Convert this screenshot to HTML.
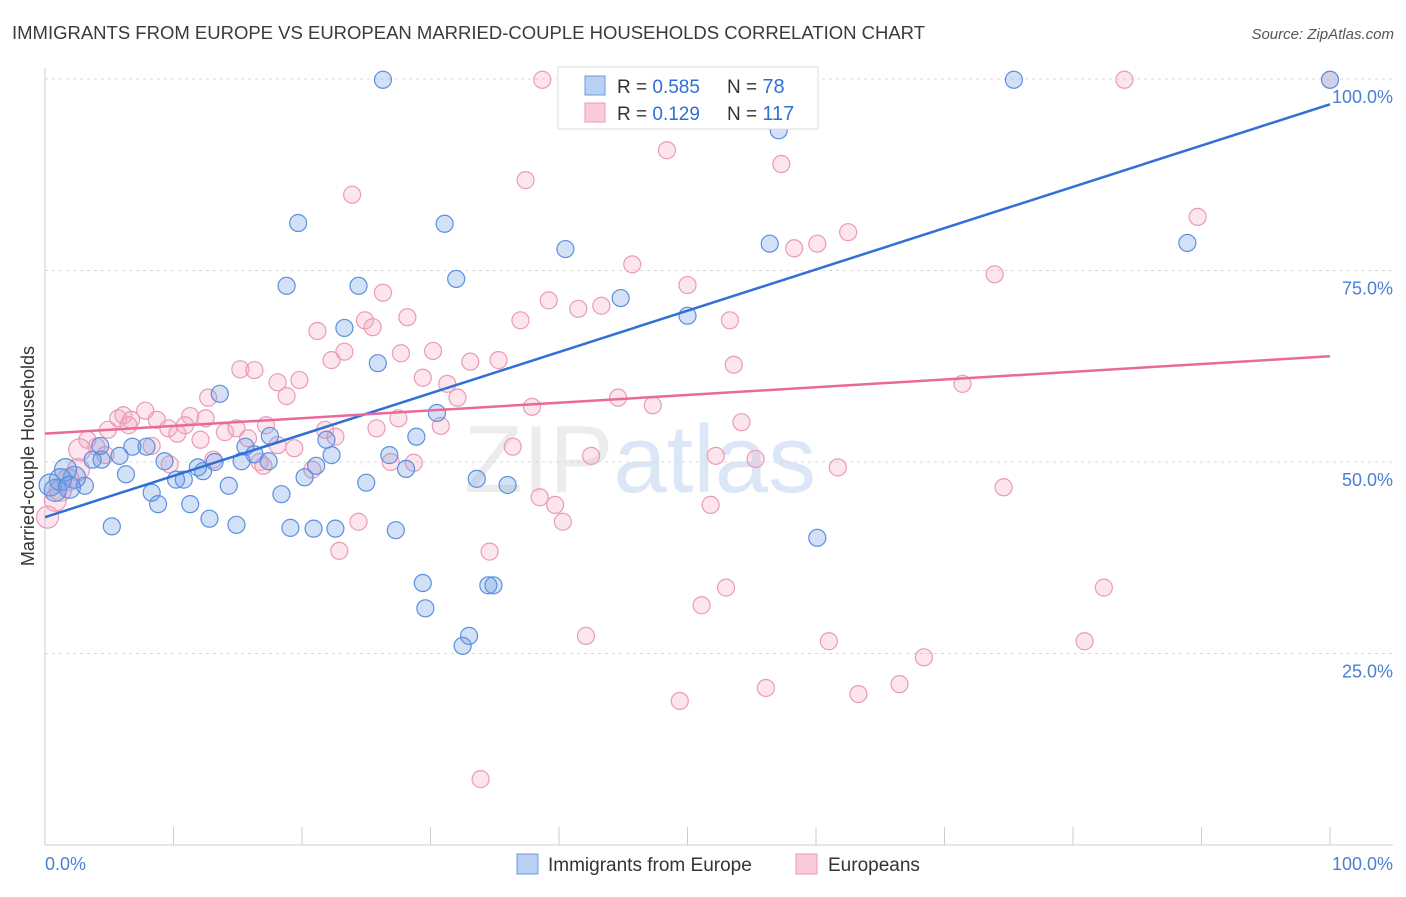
<!DOCTYPE html>
<html><head><meta charset="utf-8"><style>
body{margin:0;background:#fff;font-family:"Liberation Sans",sans-serif;}
svg text{font-family:"Liberation Sans",sans-serif;}
</style></head><body>
<svg id="chart" width="1406" height="892">
<text x="12" y="39" font-size="18" textLength="913" lengthAdjust="spacingAndGlyphs" fill="#3a3a3a">IMMIGRANTS FROM EUROPE VS EUROPEAN MARRIED-COUPLE HOUSEHOLDS CORRELATION CHART</text>
<text x="1394" y="39" font-size="15" fill="#555" text-anchor="end" font-style="italic">Source: ZipAtlas.com</text>
<text x="640" y="492" font-size="96" fill="#ececec" font-family="Liberation Serif" text-anchor="middle">ZIP<tspan fill="#dbe7f7" font-family="Liberation Sans">atlas</tspan></text>
<text transform="translate(34,456) rotate(-90)" font-size="18" fill="#333" text-anchor="middle">Married-couple Households</text>
<g id="grid"></g><g id="axes"></g><g id="pts"></g><g id="lines"></g>
<g>
<rect x="558" y="67" width="260" height="62" fill="#fff" stroke="#ddd"/>
<rect x="585" y="76" width="20" height="19" fill="#b9d0f3" stroke="#6b9be0"/>
<rect x="585" y="103" width="20" height="19" fill="#f9cad9" stroke="#eb9ab7"/>
<text x="617" y="93" font-size="19" fill="#333">R = <tspan fill="#2f6fd6">0.585</tspan><tspan x="727">N = </tspan><tspan fill="#2f6fd6" font-size="20"> 78</tspan></text>
<text x="617" y="120" font-size="19" fill="#333">R = <tspan fill="#2f6fd6"> 0.129</tspan><tspan x="727">N = </tspan><tspan fill="#2f6fd6" font-size="20">117</tspan></text>
</g>
<g>
<rect x="517" y="854" width="21" height="20" fill="#b9d0f3" stroke="#6b9be0"/>
<text x="548" y="871" font-size="19" fill="#333">Immigrants from Europe</text>
<rect x="796" y="854" width="21" height="20" fill="#f9cad9" stroke="#eb9ab7"/>
<text x="828" y="871" font-size="19" fill="#333">Europeans</text>
</g>
</svg>
<script>
const blueX=[26.3,75.4,100,47.2,57.1,19.7,31.1,40.5,18.8,24.4,32.0,44.8,56.4,88.9,50.0,23.3,25.9,13.6,30.5,28.9,21.9,22.3,26.8,28.1,33.6,25.0,18.4,20.2,21.1,5.2,8.8,11.3,12.8,14.9,19.1,20.9,22.6,27.3,29.4,29.6,34.5,34.9,33.0,32.5,60.1,36.0,14.3,12.3,11.9,10.8,10.2,9.3,8.3,7.9,6.8,6.3,5.8,4.4,3.7,4.3,3.1,2.3,1.6,1.2,0.8,0.4,1.9,15.6,16.3,17.4,15.3,13.2,17.5];
const blueY=[99.9,99.9,99.9,99.9,93.3,81.2,81.1,77.8,73.0,73.0,73.9,71.4,78.5,78.6,69.1,67.5,62.9,58.9,56.4,53.3,52.9,50.9,50.9,49.1,47.8,47.3,45.8,48.0,49.5,41.6,44.5,44.5,42.6,41.8,41.4,41.3,41.3,41.1,34.2,30.9,33.9,33.9,27.3,26.0,40.1,47.0,46.9,48.8,49.3,47.7,47.7,50.1,46.0,52.0,52.0,48.4,50.8,50.3,50.3,52.1,46.9,48.0,49.0,47.7,46.3,47.0,46.7,52.0,51.0,50.1,50.1,50.0,53.4];
const pinkX=[38.7,84.0,100,51.1,48.4,57.3,23.9,37.4,89.7,62.5,60.1,58.3,45.7,73.9,50.0,26.3,39.2,43.3,41.5,37.0,53.3,28.2,24.9,21.2,25.5,23.3,22.3,27.7,30.2,33.1,35.3,53.6,15.2,16.3,18.1,19.8,29.4,31.3,18.8,12.7,71.4,44.6,47.3,37.9,32.1,27.5,30.8,25.8,7.8,5.7,6.1,6.7,4.9,6.5,8.7,9.6,10.3,11.3,12.5,10.9,12.1,14.0,14.9,15.8,17.2,18.1,19.4,21.8,22.6,8.3,3.3,4.0,2.7,4.7,2.6,1.8,1.2,0.8,0.2,9.7,13.1,16.7,17.0,20.8,26.9,28.7,54.2,42.5,36.4,52.2,55.3,61.7,38.5,39.7,40.3,51.8,74.6,24.4,22.9,34.6,53.0,51.1,82.4,42.1,61.0,80.9,68.4,56.1,63.3,66.5,49.4,33.9];
const pinkY=[99.9,99.9,99.9,94.9,90.7,88.9,84.9,86.8,82.0,80.0,78.5,77.9,75.8,74.5,73.1,72.1,71.1,70.4,70.0,68.5,68.5,68.9,68.5,67.1,67.6,64.4,63.3,64.2,64.5,63.1,63.3,62.7,62.1,62.0,60.4,60.7,61.0,60.2,58.6,58.4,60.2,58.4,57.4,57.2,58.4,55.7,54.7,54.4,56.7,55.7,56.1,55.5,54.2,54.8,55.5,54.4,53.7,56.0,55.7,54.8,52.9,53.9,54.4,53.1,54.8,52.2,51.8,54.2,53.3,52.1,52.9,52.0,51.6,50.9,49.0,47.7,46.3,45.0,42.8,49.7,50.3,50.0,49.5,49.0,50.0,49.9,55.2,50.8,52.0,50.8,50.4,49.3,45.4,44.4,42.2,44.4,46.7,42.2,38.4,38.3,33.6,31.3,33.6,27.3,26.6,26.6,24.5,20.5,19.7,21.0,18.8,8.6];
const blueLine=[42.8,96.7];
const pinkLine=[53.7,63.8];
const yTicks=[25,50,75,100];
const xTickCount=10;
const NS='http://www.w3.org/2000/svg';
const sx=v=>45+v*12.85, sy=v=>845-v*7.66;
function mk(tag,attrs,parent){const e=document.createElementNS(NS,tag);for(const k in attrs)e.setAttribute(k,attrs[k]);document.getElementById(parent).appendChild(e);return e;}
yTicks.forEach(t=>{
 const l=mk('line',{x1:45,x2:1393,y1:sy(t),y2:sy(t),stroke:'#d8d8d8','stroke-dasharray':'3,4'},'grid');
 
 
 const tx=mk('text',{x:1393,y:sy(t)+24,'font-size':18,fill:'#4a7fd6','text-anchor':'end'},'axes');
 tx.textContent=t.toFixed(1)+'%';
 
 
});
const ax=mk('line',{x1:45,x2:45,y1:68,y2:845,stroke:'#ccc'},'axes');


const bx=mk('line',{x1:45,x2:1393,y1:845,y2:845,stroke:'#ccc'},'axes');


for(let i=0;i<=xTickCount;i++){
 const t=mk('line',{x1:sx(i*10),x2:sx(i*10),y1:827,y2:845,stroke:'#ccc'},'axes');
 
 
}
[[0,'0.0%','start',45],[100,'100.0%','end',1393]].forEach(a=>{
 const t=mk('text',{x:a[3],y:870,'font-size':18,fill:'#4a7fd6','text-anchor':a[2]},'axes');
 t.textContent=a[1];
 
 
});
function dots(X,Y,fill,stroke,name){
 X.forEach((x,i)=>{
  const r=x<3?11:8.5;
  const c=mk('circle',{cx:sx(x),cy:sy(Y[i]),r:r,fill:fill,stroke:stroke,'stroke-width':1.2},'pts');
  
  
 });
}
dots(pinkX,pinkY,'rgba(244,170,196,0.3)','#eb9ab7','europeans-point');
dots(blueX,blueY,'rgba(110,155,230,0.3)','#5b8fe0','immigrants-point');
const bl=mk('line',{x1:sx(0),y1:sy(blueLine[0]),x2:sx(100),y2:sy(blueLine[1]),stroke:'#2f6fd6','stroke-width':2.5},'lines');


const pl=mk('line',{x1:sx(0),y1:sy(pinkLine[0]),x2:sx(100),y2:sy(pinkLine[1]),stroke:'#e8699a','stroke-width':2.5},'lines');


</script>
</body></html>
